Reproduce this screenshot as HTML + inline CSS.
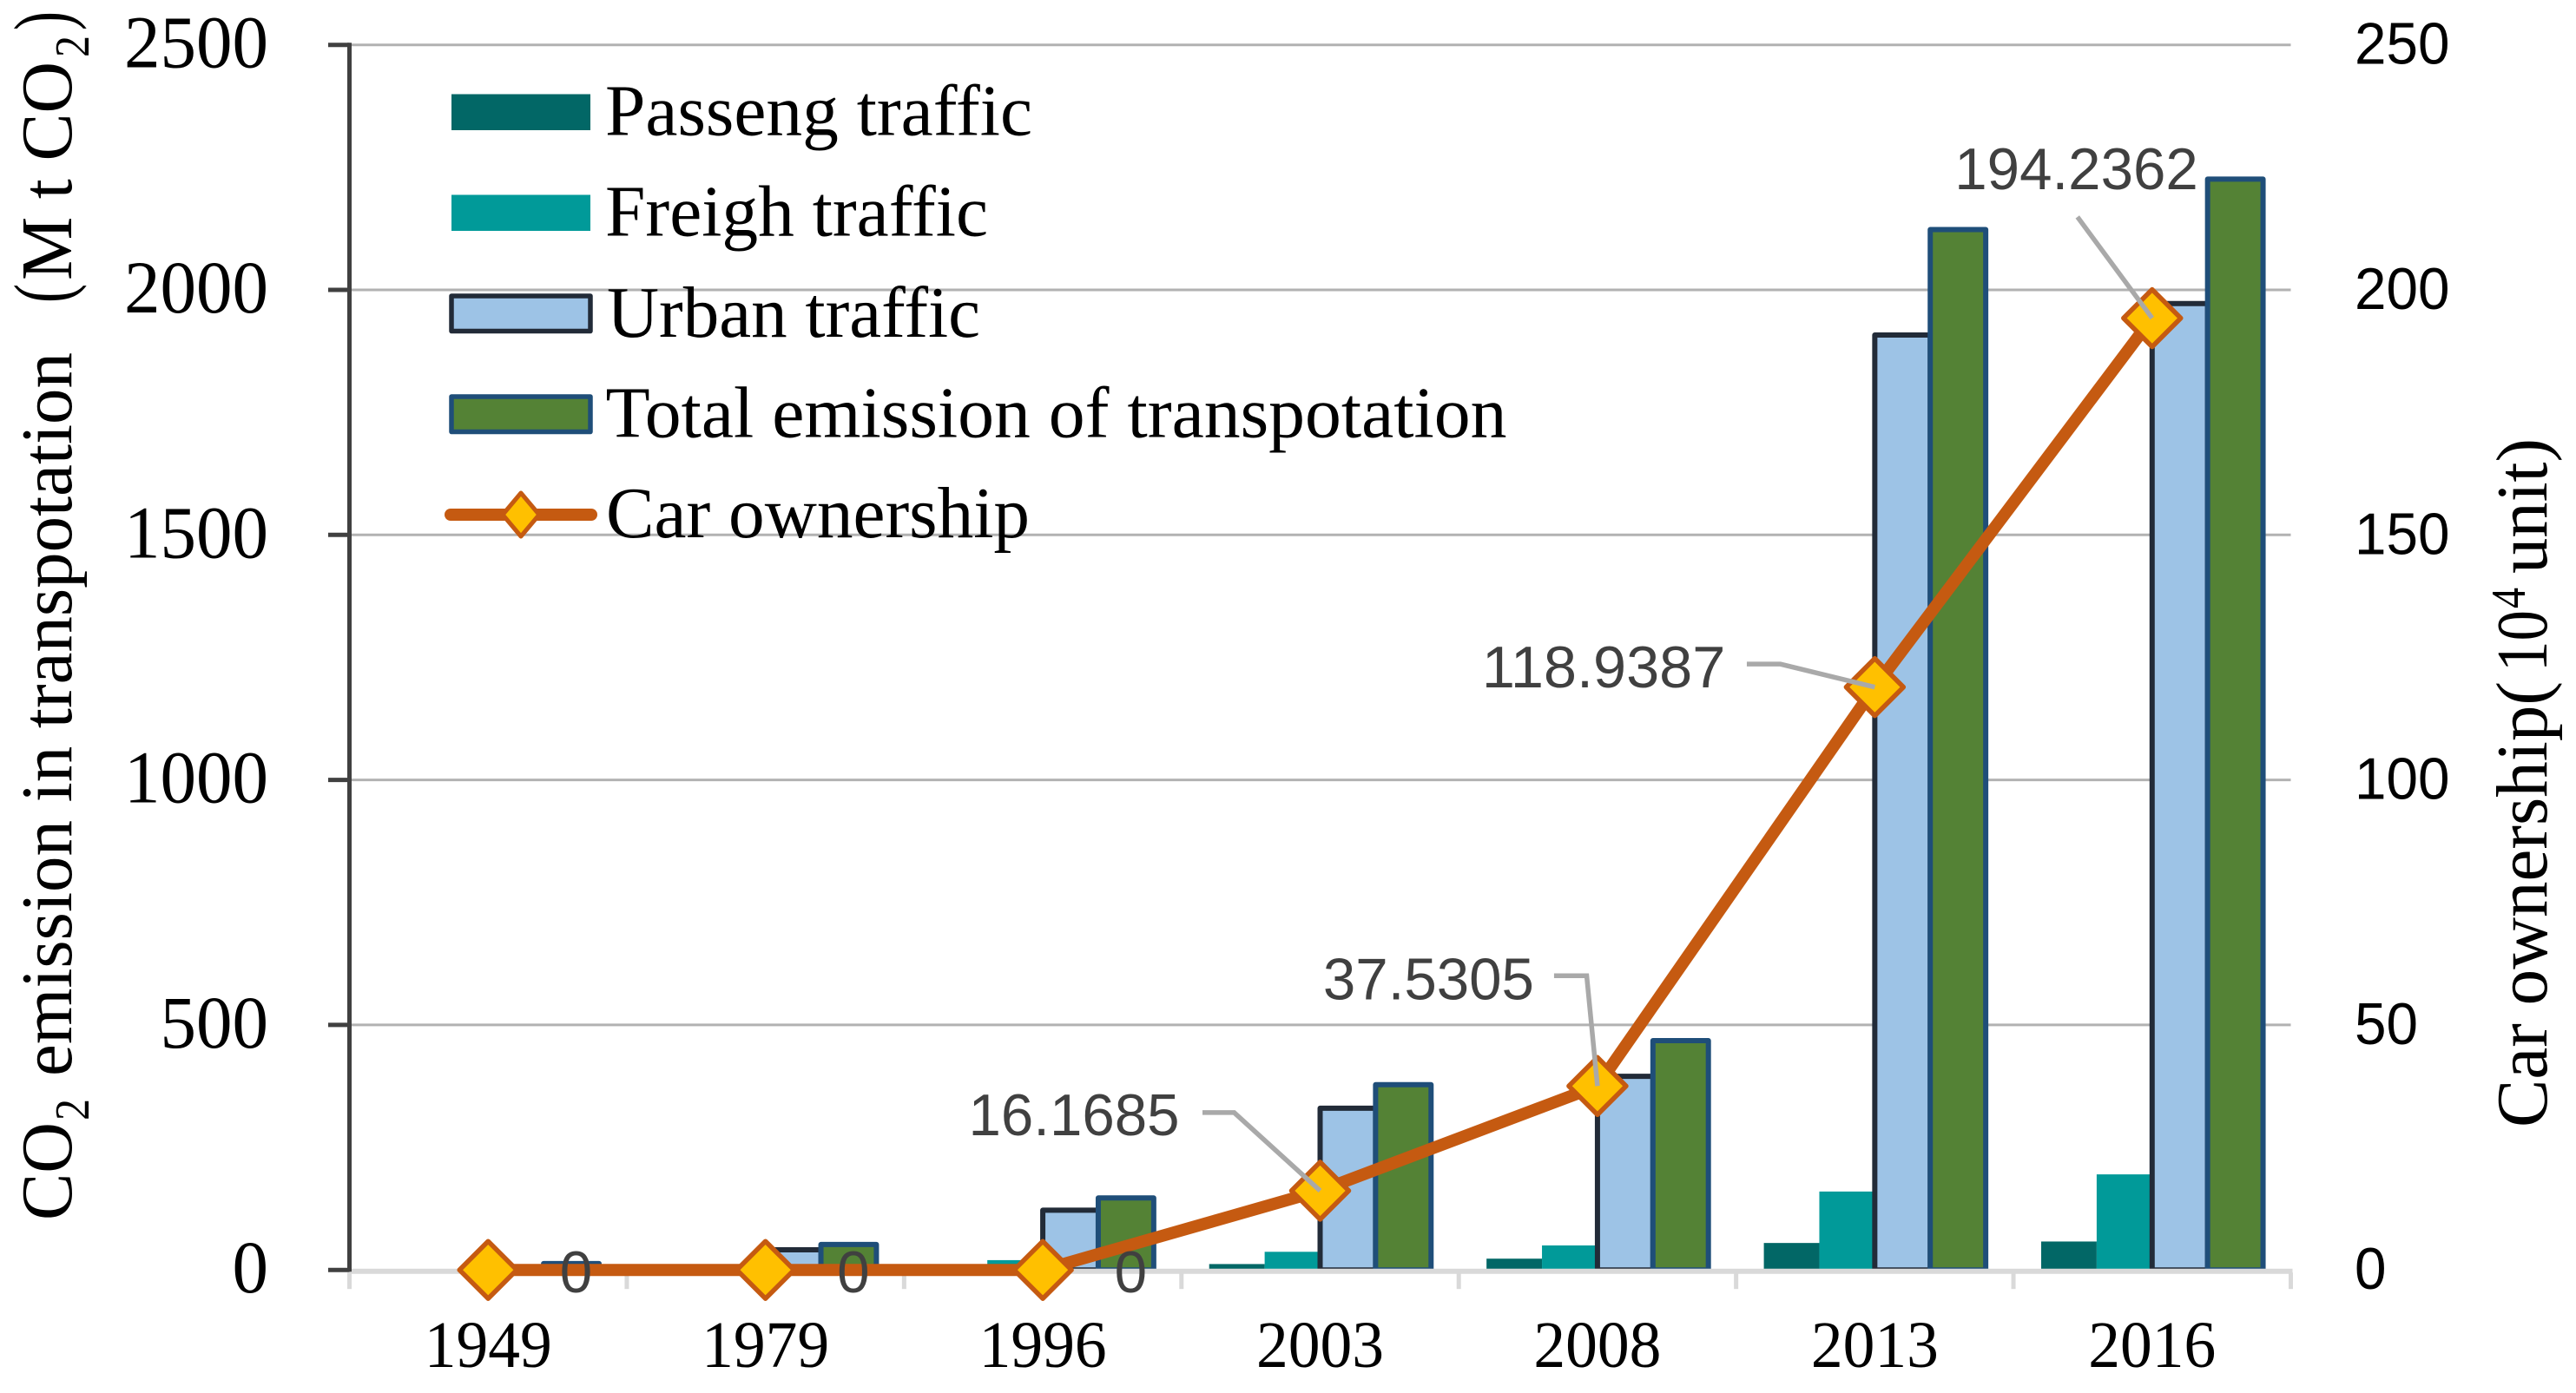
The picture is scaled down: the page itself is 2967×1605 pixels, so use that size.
<!DOCTYPE html>
<html lang="en">
<head>
<meta charset="utf-8">
<title>Transport CO2 emissions and car ownership</title>
<style>
html,body{margin:0;padding:0;background:#fff;width:2967px;height:1605px;overflow:hidden}
svg{display:block}
.serif{font-family:"Liberation Serif",serif;fill:#000}
.sans{font-family:"Liberation Sans",sans-serif}
</style>
</head>
<body>
<svg id="chart" xmlns="http://www.w3.org/2000/svg" width="2967" height="1605" viewBox="0 0 2967 1605">
<rect x="0" y="0" width="2967" height="1605" fill="#fff"/>
<g id="grid"></g>
<g id="bars"></g>
<g id="axes"></g>
<g id="line"></g>
<g id="labels"></g>

<g class="serif" font-size="84">
<text transform="translate(82,1406) rotate(-90)" textLength="113" lengthAdjust="spacingAndGlyphs">CO</text>
<text transform="translate(102,1291) rotate(-90)" font-size="56" textLength="25" lengthAdjust="spacingAndGlyphs">2</text>
<text transform="translate(82,1240) rotate(-90)" textLength="834" lengthAdjust="spacingAndGlyphs">emission in transpotation</text>
<text transform="translate(80,349) rotate(-90)" font-size="92" textLength="22" lengthAdjust="spacingAndGlyphs">(</text>
<text transform="translate(82,323) rotate(-90)" textLength="252" lengthAdjust="spacingAndGlyphs">M t CO</text>
<text transform="translate(102,66) rotate(-90)" font-size="56" textLength="25" lengthAdjust="spacingAndGlyphs">2</text>
<text transform="translate(80,35) rotate(-90)" font-size="92" textLength="22" lengthAdjust="spacingAndGlyphs">)</text>
</g>

<g class="serif" font-size="84">
<text transform="translate(2933,1299) rotate(-90)" textLength="514" lengthAdjust="spacingAndGlyphs">Car ownership(</text>
<text transform="translate(2933,774) rotate(-90)" textLength="71" lengthAdjust="spacingAndGlyphs">10</text>
<text transform="translate(2908,701) rotate(-90)" font-size="56" textLength="24" lengthAdjust="spacingAndGlyphs">4</text>
<text transform="translate(2933,661) rotate(-90)" textLength="156" lengthAdjust="spacingAndGlyphs">unit)</text>
</g>

<g>
<g>
<rect x="520" y="108.5" width="160" height="41.5" fill="#026766"/>
<text class="serif" font-size="84" x="697" y="155.6" textLength="492" lengthAdjust="spacingAndGlyphs">Passeng traffic</text>
</g>
<g>
<rect x="520" y="224.5" width="160" height="41.5" fill="#019A99"/>
<text class="serif" font-size="84" x="697" y="271.6" textLength="441" lengthAdjust="spacingAndGlyphs">Freigh traffic</text>
</g>
<g>
<rect x="520" y="341" width="160" height="40.5" fill="#9DC3E6" stroke="#222B38" stroke-width="5.5" stroke-linejoin="round"/>
<text class="serif" font-size="84" x="699" y="388" textLength="430" lengthAdjust="spacingAndGlyphs">Urban traffic</text>
</g>
<g>
<rect x="520" y="457" width="160" height="40.5" fill="#548235" stroke="#1F4E79" stroke-width="5.5" stroke-linejoin="round"/>
<text class="serif" font-size="84" x="697.5" y="503.6" textLength="1038" lengthAdjust="spacingAndGlyphs">Total emission of transpotation</text>
</g>
<g>
<line x1="519" y1="593" x2="681" y2="593" stroke="#C55A11" stroke-width="14" stroke-linecap="round"/>
<polygon points="600,568 621,593 600,618 579,593" fill="#FFC000" stroke="#C55A11" stroke-width="5" stroke-linejoin="round"/>
<text class="serif" font-size="84" x="698" y="619" textLength="488" lengthAdjust="spacingAndGlyphs">Car ownership</text>
</g>
</g>
</svg>

<script>
const categories = ['1949', '1979', '1996', '2003', '2008', '2013', '2016'];
const passengerTraffic = [0, 1, 2, 12, 23, 55, 58];
const freightTraffic = [1, 5, 20, 37, 50, 160, 195];
const urbanTraffic = [6, 41, 122, 330, 395, 1908, 1972];
const totalEmission = [13, 52, 147, 378, 468, 2123, 2226];
const carOwnership = [0, 0, 0, 16.1685, 37.5305, 118.9387, 194.2362];
const leftTicks = [0, 500, 1000, 1500, 2000, 2500];
const rightTicks = [0, 50, 100, 150, 200, 250];

const NS = 'http://www.w3.org/2000/svg';
const plotLeft = 402.5, plotRight = 2638.5, plotTop = 51.7, plotBottom = 1463.2;
const leftMax = 2500, rightMax = 250;
const bandWidth = (plotRight - plotLeft) / categories.length;
const barWidth = bandWidth / 5;

function xCenter(i) { return plotLeft + bandWidth * (i + 0.5); }
function yLeft(v) { return plotBottom - (v / leftMax) * (plotBottom - plotTop); }
function yRight(v) { return plotBottom - (v / rightMax) * (plotBottom - plotTop); }
function make(tag, parent) {
  const el = document.createElementNS(NS, tag);
  parent.appendChild(el);
  return el;
}
function setAll(el, attrs) {
  for (const k in attrs) el.setAttribute(k, attrs[k]);
  return el;
}

const grid = document.getElementById('grid');
const axes = document.getElementById('axes');
const bars = document.getElementById('bars');
const lineLayer = document.getElementById('line');
const labels = document.getElementById('labels');

/* gridlines (above zero) and left axis ticks + labels */
leftTicks.forEach(function (t) {
  const y = yLeft(t);
  if (t > 0) {
    const g = setAll(make('line', grid), { x1: plotLeft, x2: plotRight, y1: y, y2: y, stroke: '#B2B2B2', 'stroke-width': 3 });
    
    
  }
  const tk = setAll(make('line', axes), { x1: 378, x2: plotLeft, y1: y, y2: y, stroke: '#404040', 'stroke-width': 5 });
  
  
  const tx = setAll(make('text', axes), { x: 309, y: y + 26, 'text-anchor': 'end', class: 'serif', 'font-size': 86, textLength: 41.5 * String(t).length, lengthAdjust: 'spacingAndGlyphs' });
  tx.textContent = String(t);
  
  
});

/* right axis labels */
rightTicks.forEach(function (t) {
  const tx = setAll(make('text', axes), { x: 2712, y: yRight(t) + 22, class: 'sans', fill: '#000', 'font-size': 68, textLength: 36.5 * String(t).length, lengthAdjust: 'spacingAndGlyphs' });
  tx.textContent = String(t);
  
  
});

/* bars */
categories.forEach(function (c, i) {
  const left = xCenter(i) - 2 * barWidth;
  const pBar = setAll(make('rect', bars), { x: left, y: yLeft(passengerTraffic[i]), width: barWidth, height: plotBottom - yLeft(passengerTraffic[i]), fill: '#026766' });
  
  
  const fBar = setAll(make('rect', bars), { x: left + barWidth, y: yLeft(freightTraffic[i]), width: barWidth, height: plotBottom - yLeft(freightTraffic[i]), fill: '#019A99' });
  
  
  const uBar = setAll(make('rect', bars), { x: left + 2 * barWidth, y: yLeft(urbanTraffic[i]), width: barWidth, height: plotBottom - yLeft(urbanTraffic[i]), fill: '#9DC3E6', stroke: '#222B38', 'stroke-width': 6, 'stroke-linejoin': 'round' });
  
  
  const tBar = setAll(make('rect', bars), { x: left + 3 * barWidth, y: yLeft(totalEmission[i]), width: barWidth, height: plotBottom - yLeft(totalEmission[i]), fill: '#548235', stroke: '#1F4E79', 'stroke-width': 6, 'stroke-linejoin': 'round' });
  
  
});

/* category axis */
const baseLine = setAll(make('line', axes), { x1: plotLeft, x2: plotRight + 2, y1: plotBottom + 1.5, y2: plotBottom + 1.5, stroke: '#D9D9D9', 'stroke-width': 6 });


const yAxisLine = setAll(make('line', axes), { x1: plotLeft, x2: plotLeft, y1: plotTop - 2.5, y2: plotBottom + 2, stroke: '#404040', 'stroke-width': 5 });


for (let i = 0; i <= categories.length; i++) {
  const x = plotLeft + bandWidth * i;
  const tk = setAll(make('line', axes), { x1: x, x2: x, y1: plotBottom + 3, y2: plotBottom + 22, stroke: '#D9D9D9', 'stroke-width': 5 });
  
  
}
categories.forEach(function (c, i) {
  const tx = setAll(make('text', axes), { x: xCenter(i), y: 1575, 'text-anchor': 'middle', class: 'serif', 'font-size': 76, textLength: 147, lengthAdjust: 'spacingAndGlyphs' });
  tx.textContent = c;
  
  
});

/* car ownership line + markers */
const pts = carOwnership.map(function (v, i) { return [xCenter(i), yRight(v)]; });
const poly = setAll(make('polyline', lineLayer), { points: pts.map(function (p) { return p.join(','); }).join(' '), fill: 'none', stroke: '#C55A11', 'stroke-width': 14, 'stroke-linejoin': 'round', 'stroke-linecap': 'round' });


pts.forEach(function (p, i) {
  const r = 33;
  const m = setAll(make('polygon', lineLayer), { points: [[p[0], p[1] - r], [p[0] + r, p[1]], [p[0], p[1] + r], [p[0] - r, p[1]]].map(function (q) { return q.join(','); }).join(' '), fill: '#FFC000', stroke: '#C55A11', 'stroke-width': 5.5, 'stroke-linejoin': 'round' });
  
  
});

/* data labels placed relative to their points; ex/ey = text end and baseline offset, leader = elbow offsets */
const labelOffsets = [
  { ex: 120, ey: 26, leader: null },
  { ex: 120, ey: 26, leader: null },
  { ex: 120, ey: 26, leader: null },
  { ex: -162, ey: -63.7, leader: [[-135.5, -90], [-99, -90]] },
  { ex: -73, ey: -100, leader: [[-50, -127], [-12.4, -127]] },
  { ex: -172, ey: 0.5, leader: [[-147.4, -26.5], [-108.7, -26.5]] },
  { ex: 53, ey: -148.6, leader: [[-86, -116.6]] }
];
carOwnership.forEach(function (v, i) {
  const p = pts[i], o = labelOffsets[i];
  const s = String(v);
  const digits = s.replace('.', '').length;
  const dots = s.length - digits;
  if (o.leader) {
    const chain = o.leader.map(function (q) { return [p[0] + q[0], p[1] + q[1]].join(','); });
    chain.push(p.join(','));
    const ld = setAll(make('polyline', labels), { points: chain.join(' '), fill: 'none', stroke: '#A9A9A9', 'stroke-width': 5.5 });
    
    
  }
  const tx = setAll(make('text', labels), { x: p[0] + o.ex, y: p[1] + o.ey, 'text-anchor': 'end', class: 'sans', fill: '#404040', 'font-size': 68, textLength: 37.5 * digits + 18 * dots, lengthAdjust: 'spacingAndGlyphs' });
  tx.textContent = s;
  
  
});
</script>
</body>
</html>
